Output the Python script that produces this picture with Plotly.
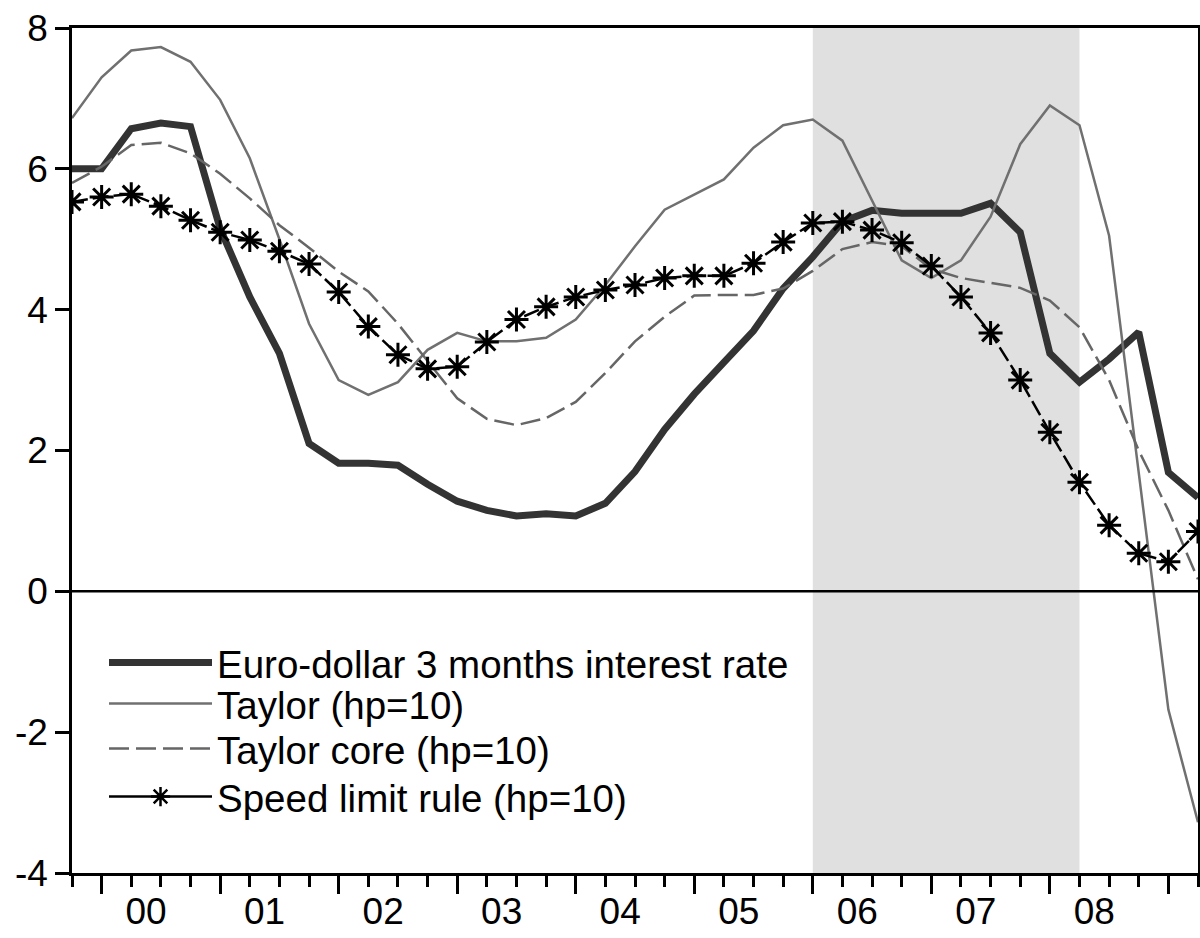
import plotly.graph_objects as go

quarters = ["1999Q4",
            "2000Q1", "2000Q2", "2000Q3", "2000Q4",
            "2001Q1", "2001Q2", "2001Q3", "2001Q4",
            "2002Q1", "2002Q2", "2002Q3", "2002Q4",
            "2003Q1", "2003Q2", "2003Q3", "2003Q4",
            "2004Q1", "2004Q2", "2004Q3", "2004Q4",
            "2005Q1", "2005Q2", "2005Q3", "2005Q4",
            "2006Q1", "2006Q2", "2006Q3", "2006Q4",
            "2007Q1", "2007Q2", "2007Q3", "2007Q4",
            "2008Q1", "2008Q2", "2008Q3", "2008Q4",
            "2009Q1", "2009Q2"]

euro_dollar = [6.0, 6.0, 6.57, 6.65, 6.6, 5.15, 4.18, 3.38, 2.1, 1.82,
               1.82, 1.79, 1.52, 1.28, 1.15, 1.07, 1.1, 1.07, 1.25, 1.7,
               2.3, 2.8, 3.25, 3.7, 4.3, 4.75, 5.25, 5.41, 5.37, 5.37,
               5.37, 5.51, 5.1, 3.38, 2.97, 3.3, 3.68, 1.69, 1.33]
taylor = [6.72, 7.3, 7.68, 7.73, 7.52, 6.98, 6.15, 5.0, 3.8, 3.0,
          2.79, 2.97, 3.43, 3.67, 3.55, 3.55, 3.6, 3.86, 4.35, 4.9,
          5.42, 5.63, 5.85, 6.3, 6.62, 6.7, 6.4, 5.55, 4.7, 4.45,
          4.7, 5.32, 6.35, 6.9, 6.62, 5.05, 1.65, -1.68, -3.28]
taylor_core = [5.8, 6.03, 6.34, 6.37, 6.22, 5.93, 5.58, 5.2, 4.88, 4.54,
               4.26, 3.8, 3.27, 2.74, 2.45, 2.36, 2.46, 2.69, 3.1, 3.55,
               3.9, 4.2, 4.21, 4.21, 4.3, 4.55, 4.86, 4.96, 4.9, 4.58,
               4.45, 4.38, 4.31, 4.13, 3.75, 3.0, 2.0, 1.15, 0.17]
speed_limit = [5.53, 5.6, 5.64, 5.47, 5.27, 5.1, 4.99, 4.83, 4.65, 4.25,
               3.76, 3.36, 3.16, 3.19, 3.54, 3.86, 4.04, 4.18, 4.28, 4.35,
               4.45, 4.48, 4.48, 4.66, 4.96, 5.23, 5.25, 5.13, 4.95, 4.62,
               4.18, 3.67, 3.0, 2.26, 1.55, 0.94, 0.54, 0.42, 0.85]

year_labels = ["00", "01", "02", "03", "04", "05", "06", "07", "08"]
y_ticks = [-4, -2, 0, 2, 4, 6, 8]
y_tick_text = ["-4", "-2", "0", "2", "4", "6", "8"]
shade_start, shade_end = "2006Q1", "2008Q2"

x = list(range(len(quarters)))
year_start_idx = [quarters.index("20%sQ1" % y) for y in year_labels + ["09"]]
label_pos = [quarters.index("20%sQ1" % y) + 1.5 for y in year_labels]

FONT = "Liberation Sans, Arial, sans-serif"
TICK_SIZE = 37
LEG_SIZE = 38.5
fig = go.Figure()

euro_style = dict(color="#333333", width=7)
taylor_style = dict(color="#707070", width=2.5)
core_style = dict(color="#666666", width=2.5, dash="20px,7px")
speed_marker = dict(symbol="asterisk-open", size=20,
                    line=dict(color="#000000", width=3))

fig.add_trace(go.Scatter(x=x, y=euro_dollar, mode="lines",
                         name="Euro-dollar 3 months interest rate",
                         line=euro_style, legend="legend"))
fig.add_trace(go.Scatter(x=x, y=taylor, mode="lines", name="Taylor (hp=10)",
                         line=taylor_style, legend="legend2"))
fig.add_trace(go.Scatter(x=x, y=taylor_core, mode="lines", name="Taylor core (hp=10)",
                         line=core_style, legend="legend3"))
fig.add_trace(go.Scatter(x=x, y=speed_limit, mode="lines+markers",
                         name="Speed limit rule (hp=10)", showlegend=False,
                         line=dict(color="#000000", width=2.5, dash="16px,5px"),
                         marker=speed_marker))
# legend entry for the speed limit rule (solid line with marker, as in the key)
fig.add_trace(go.Scatter(x=[None], y=[None], mode="lines+markers",
                         name="Speed limit rule (hp=10)", legend="legend4",
                         line=dict(color="#000000", width=2.5),
                         marker=dict(symbol="asterisk-open", size=16,
                                     line=dict(color="#000000", width=2.5))))
# invisible trace for the label axis
fig.add_trace(go.Scatter(x=[0, len(x) - 1], y=[0, 0], xaxis="x2", mode="lines",
                         line=dict(width=0), showlegend=False, hoverinfo="skip"))

fig.add_shape(type="rect", xref="x", yref="paper",
              x0=quarters.index(shade_start), x1=quarters.index(shade_end),
              y0=0, y1=1, fillcolor="#e0e0e0", line=dict(width=0), layer="below")
fig.add_shape(type="line", xref="paper", yref="y", x0=0, x1=1, y0=0, y1=0,
              line=dict(color="black", width=2.5))

H_PLOT = 845.0
W_PLOT = 1126.0
def leg(ypix):
    return dict(x=32 / W_PLOT, y=(873 - ypix) / H_PLOT, xanchor="left", yanchor="middle",
                bgcolor="rgba(0,0,0,0)", itemwidth=103,
                font=dict(family=FONT, size=LEG_SIZE, color="black"))

fig.update_layout(
    width=1200, height=938,
    margin=dict(l=72, r=2, t=28, b=65, autoexpand=False),
    paper_bgcolor="white", plot_bgcolor="white",
    font=dict(family=FONT, size=TICK_SIZE, color="black"),
    showlegend=True,
    legend=leg(663), legend2=leg(704), legend3=leg(749), legend4=leg(797),
    xaxis=dict(range=[0, len(x) - 1], showgrid=False, zeroline=False, automargin=False,
               showline=True, linecolor="black", linewidth=2.5, mirror=True,
               tickmode="array", tickvals=year_start_idx,
               ticktext=[""] * len(year_start_idx),
               ticks="outside", ticklen=18, tickwidth=3, tickcolor="black",
               minor=dict(tickmode="linear", tick0=0, dtick=1, ticks="outside",
                          ticklen=11, tickwidth=3, tickcolor="black")),
    xaxis2=dict(range=[0, len(x) - 1], overlaying="x", anchor="y", side="bottom",
                showgrid=False, zeroline=False, showline=False, automargin=False,
                tickmode="array", tickvals=label_pos, ticktext=year_labels,
                ticks="", ticklen=0, ticklabelstandoff=13,
                tickfont=dict(family=FONT, size=TICK_SIZE, color="black")),
    yaxis=dict(range=[-4, 8], showgrid=False, zeroline=False, automargin=False,
               showline=True, linecolor="black", linewidth=2.5, mirror=True,
               tickmode="array", tickvals=y_ticks, ticktext=y_tick_text,
               ticks="outside", ticklen=14, tickwidth=2.5, tickcolor="black",
               tickfont=dict(family=FONT, size=TICK_SIZE, color="black")),
)

fig.write_html("out.html", config={"displayModeBar": False},
               post_script="document.body.style.margin='0px';"
                           "document.body.style.overflow='hidden';")
